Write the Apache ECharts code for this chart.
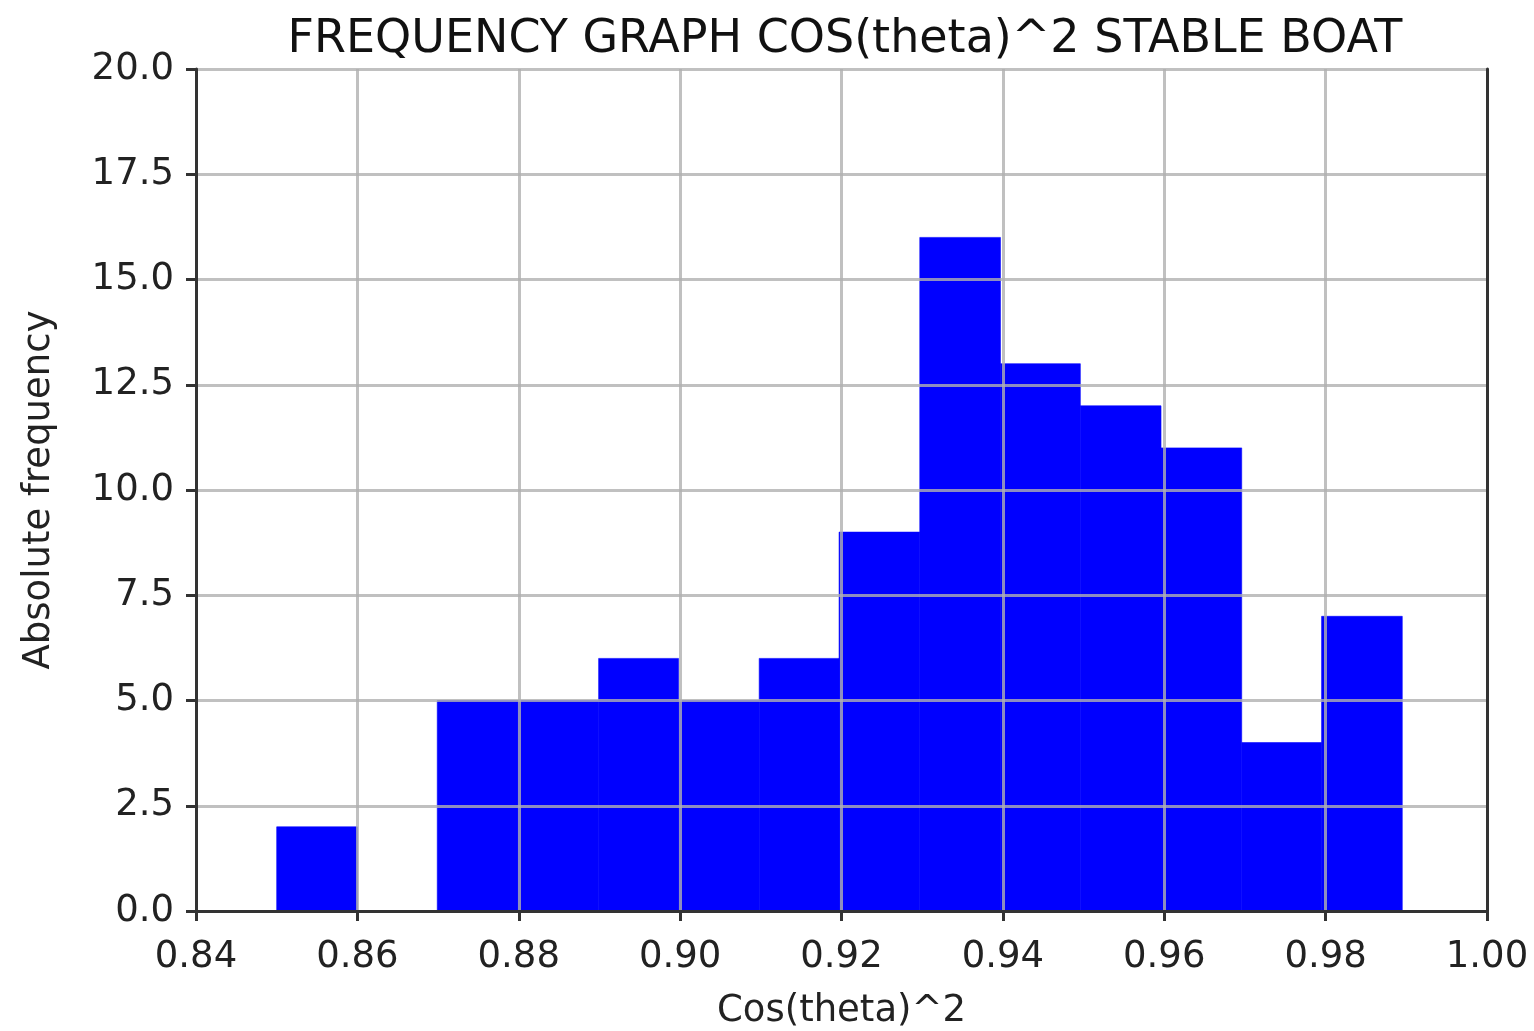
<!DOCTYPE html>
<html>
<head>
<meta charset="utf-8">
<script src="https://cdn.jsdelivr.net/npm/echarts@6/dist/echarts.min.js"></script>
<style>html,body{margin:0;padding:0;background:#fff}#c{width:1534px;height:1031px}</style>
</head>
<body>
<div id="c"></div>
<script>
const binEdges = [0.8500,0.8600,0.8699,0.8799,0.8899,0.8998,0.9098,0.9197,0.9297,0.9397,0.9496,0.9596,0.9696,0.9795,0.9895];
const counts = [2,0,5,5,6,5,6,9,16,13,12,11,4,7];
const xTicks = [0.84,0.86,0.88,0.90,0.92,0.94,0.96,0.98,1.00];
const yTicks = [0,2.5,5,7.5,10,12.5,15,17.5,20];

const chart = echarts.init(document.getElementById('c'));
const font = 'DejaVu Sans';
const data = counts.map((c,i)=>[binEdges[i], binEdges[i+1], c]);
const gridLine = {show:true,lineStyle:{color:'rgba(176,176,176,0.8)',width:3}};
const axLine = {show:true,lineStyle:{color:'#333',width:3}};
chart.setOption({
  animation:false,
  title:{text:'FREQUENCY GRAPH COS(theta)^2 STABLE BOAT', left:840, top:12, textAlign:'center',
    textStyle:{fontFamily:font,fontWeight:'normal',fontSize:46,color:'#111'}},
  grid:{left:196,right:47,top:69,bottom:120,containLabel:false,outerBoundsMode:'none'},
  xAxis:[{type:'value',min:0.84,max:1.00,interval:0.02,z:3,
    name:'Cos(theta)^2',nameLocation:'middle',nameGap:82,
    nameTextStyle:{fontFamily:font,fontSize:37,color:'#222'},
    axisLine:axLine,
    axisTick:{show:true,length:10,lineStyle:{color:'#333',width:3}},
    axisLabel:{fontFamily:font,fontSize:37,color:'#222',margin:28,formatter:v=>v.toFixed(2)},
    splitLine:gridLine},
   {type:'value',position:'top',min:0.84,max:1.00,interval:0.02,z:3,
    axisLine:axLine,axisTick:{show:false},axisLabel:{show:false},splitLine:{show:false}}],
  yAxis:[{type:'value',min:0,max:20,interval:2.5,z:3,
    name:'Absolute frequency',nameLocation:'middle',nameGap:138,
    nameTextStyle:{fontFamily:font,fontSize:37,color:'#222'},
    axisLine:axLine,
    axisTick:{show:true,length:10,lineStyle:{color:'#333',width:3}},
    axisLabel:{fontFamily:font,fontSize:37,color:'#222',margin:22,formatter:v=>v.toFixed(1)},
    splitLine:gridLine},
   {type:'value',position:'right',min:0,max:20,interval:2.5,z:3,
    axisLine:axLine,axisTick:{show:false},axisLabel:{show:false},splitLine:{show:false}}],
  series:[{
    type:'custom',
    z:2,
    renderItem:(params,api)=>{
      const p0 = api.coord([api.value(0),0]);
      const p1 = api.coord([api.value(1),api.value(2)]);
      return {type:'rect',shape:{x:p0[0],y:p1[1],width:p1[0]-p0[0],height:p0[1]-p1[1]},
        style:{fill:'#0000ff',stroke:'#0000ff',lineWidth:0.6}};
    },
    encode:{x:[0,1],y:2},
    data:data
  }]
});
</script>
</body>
</html>
